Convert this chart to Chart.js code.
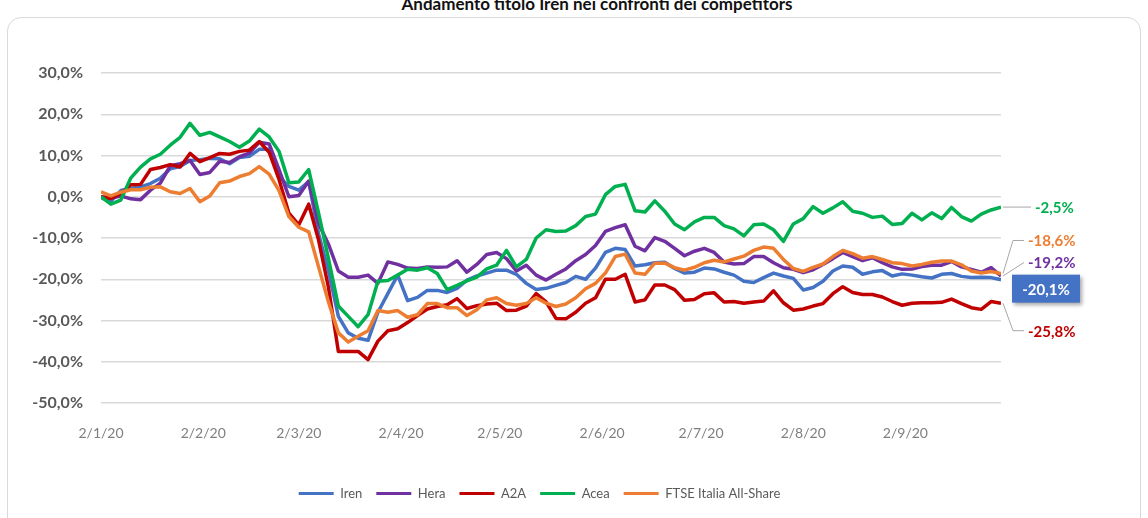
<!DOCTYPE html>
<html>
<head>
<meta charset="utf-8">
<script src="https://cdn.jsdelivr.net/npm/chart.js@4.4.1/dist/chart.umd.min.js"></script>
<style>
  html, body { margin: 0; padding: 0; background: #fff; overflow: hidden; }
  #title { position: absolute; left: 23px; top: -5px; width: 1148px; text-align: center;
           font: bold 17px Lato, "Liberation Sans", sans-serif; line-height: 17px; color: #111; }
  #card { position: absolute; left: 7px; top: 17px; width: 1132px; height: 530px;
          border: 1px solid #d9d9d9; border-radius: 14px; }
  #wrap { position: absolute; left: 0; top: 0; width: 1148px; height: 518px; }
</style>
</head>
<body>
<div id="card"></div>
<div id="title">Andamento titolo Iren nei confronti dei competitors</div>
<div id="wrap"><canvas id="canvas"></canvas></div>
<script>
// giorni dal 2/1/20, uno ogni 3
const days = [0,3,6,9,12,15,18,21,24,27,30,33,36,39,42,45,48,51,54,57,60,63,66,69,72,75,78,81,84,87,
  90,93,96,99,102,105,108,111,114,117,120,123,126,129,132,135,138,141,144,147,150,153,156,159,162,165,168,171,174,177,
  180,183,186,189,192,195,198,201,204,207,210,213,216,219,222,225,228,231,234,237,240,243,246,249,252,255,258,261,264,267,
  270,273];
const xTickDays = [0,31,60,91,121,152,182,213,244];
const xTickLabels = ['2/1/20','2/2/20','2/3/20','2/4/20','2/5/20','2/6/20','2/7/20','2/8/20','2/9/20'];
const seriesNames = ['Iren','Hera','A2A','Acea','FTSE Italia All-Share'];

const iren = [-0.2,-1.1,1.5,2,2.4,3.2,4.5,6.8,7.3,8.8, 9,9.3,9.2,8,9.5,9.8,11.5,11.5,4.9,2.5,
  1.6,3.7,-9,-18,-29,-33,-34.3,-34.8,-28,-23.5, -19,-25.2,-24.4,-22.7,-22.7,-23.2,-22.2,-20.2,-19.2,-18.5,
  -17.8,-17.8,-18.8,-21,-22.5,-22.2,-21.5,-20.8,-19.3,-20, -17.3,-13.5,-12.5,-12.8,-16.8,-16.5,-16,-15.9,-17.4,-18.5,
  -18.3,-17.3,-17.5,-18.3,-19,-20.5,-20.8,-19.6,-18.5,-19.2, -19.8,-22.6,-22,-20.5,-18,-16.8,-17.1,-18.8,-18.2,-17.9,
  -19.2,-18.7,-19,-19.4,-19.7,-18.8,-18.6,-19.3,-19.6,-19.5, -19.6,-20.1];
const hera = [0,-0.3,0.2,-0.5,-0.7,1.6,3.3,7.5,8,8.8, 5.4,5.9,8.6,8.3,9.7,10.6,13.2,12.8,6.6,0,
  0.3,3.8,-6.5,-11.5,-18,-19.5,-19.5,-19,-21,-15.8, -16.4,-17.3,-17.4,-17,-17.1,-17,-15.5,-18.3,-16.4,-14,
  -13.5,-15,-18,-16.6,-19,-20.2,-18.8,-17.5,-15.5,-14, -11.8,-8.4,-7.5,-6.8,-12,-13.1,-9.9,-10.8,-12.5,-14.3,
  -13.2,-12.5,-13.5,-15.8,-16.3,-16.2,-14.5,-14.5,-16,-17.2, -17.6,-18.4,-17.7,-16.4,-15,-13.5,-14.5,-15.5,-14.8,-16,
  -17,-17.6,-17.5,-16.9,-16.6,-16.6,-15.7,-17,-17.6,-18.3, -17.2,-19.2];
const a2a = [0,-0.4,0.8,2.9,3,6.6,7.1,7.8,7.2,10.5, 8.5,9.5,10.5,10.3,11,11.3,13.4,10.8,4.2,-4,
  -6.8,-1.8,-10.5,-22,-37.5,-37.5,-37.5,-39.5,-35,-32.5, -32,-30.5,-28.8,-27.2,-26.6,-26.2,-24.7,-27.1,-26.4,-26,
  -25.8,-27.6,-27.5,-26.5,-23.5,-25.5,-29.5,-29.6,-28,-25.8, -24.5,-20,-20,-18.8,-25.5,-25,-21.4,-21.4,-22.5,-25.1,
  -24.9,-23.5,-23.3,-25.5,-25.4,-25.8,-25.5,-25.3,-22.8,-25.7, -27.5,-27.2,-26.5,-25.9,-23.5,-21.8,-23.2,-23.7,-23.7,-24.3,
  -25.4,-26.3,-25.8,-25.7,-25.7,-25.6,-24.8,-25.9,-26.9,-27.3, -25.4,-25.8];
const acea = [0,-1.8,-0.8,4.5,7.2,9.2,10.3,12.5,14.4,17.8, 14.9,15.6,14.5,13.4,12,13.5,16.4,14.5,11,3.4,
  3.6,6.6,-4,-15,-26.5,-29,-31.5,-28.6,-20.5,-20.3, -19,-17.6,-17.8,-17.2,-18.6,-22.5,-21.5,-20.4,-19.5,-17.5,
  -16.6,-13,-17,-15.2,-10,-8,-8.4,-8.3,-7,-4.8, -4.2,0.5,2.5,3,-3.4,-3.7,-1,-3.5,-6.6,-8,
  -6.1,-5,-5,-7,-7.8,-9.5,-6.8,-6.6,-8,-10.8, -6.6,-5.3,-2.4,-4,-2.7,-1.2,-3.5,-4,-5,-4.7,
  -6.7,-6.5,-4,-5.6,-3.9,-5.3,-2.6,-4.8,-5.9,-4.2, -3.2,-2.5];
const ftse = [1.2,0.2,1.1,1.7,1.7,2.3,2.4,1.2,0.8,2, -1.2,0.2,3.4,3.8,4.9,5.6,7.3,5.5,1.5,-4.8,
  -7.4,-8.5,-17,-25.5,-33,-35.2,-33.8,-32.5,-27.6,-28, -27.6,-29.2,-28.6,-25.9,-25.9,-26.9,-26.9,-28.8,-27.4,-25,
  -24.5,-25.9,-26.3,-25.9,-24.5,-25.8,-26.6,-26,-24.5,-22.3, -21,-18.5,-14.5,-13.9,-18.5,-18.8,-16.1,-16.1,-17.2,-17.8,
  -17.1,-16,-15.4,-15.8,-15.1,-14.4,-13,-12.2,-12.5,-15.2, -17.4,-18.1,-17.1,-16.3,-14.5,-13,-13.8,-14.9,-14.5,-15.2,
  -16,-16.2,-16.8,-16.4,-15.9,-15.6,-15.6,-16.5,-18,-18.5, -18.1,-18.6];
const endLabels = ['-20,1%','-19,2%','-25,8%','-2,5%','-18,6%'];

const colors = ['#4472C4','#7030A0','#C00000','#00B050','#ED7D31'];
const allSeries = [iren, hera, a2a, acea, ftse];
const fontFamily = 'Lato, "Liberation Sans", sans-serif';

const toPts = (vals) => vals.map((v, i) => ({ x: days[i], y: v }));

const datasets = allSeries.map((vals, i) => ({
  label: seriesNames[i],
  data: toPts(vals),
  borderColor: colors[i],
  backgroundColor: colors[i],
  borderWidth: 3.5,
  pointRadius: 0,
  tension: 0,
  borderJoinStyle: 'round',
  order: 5 - i,
}));

// etichette finali a destra (stile Excel)
const labelDx = [11, 27, 27, 34, 27];
const labelDy = [9, -13.5, 27.5, 0, -33];
const endLabelPlugin = {
  id: 'endLabels',
  afterLayout(chart) {
    // legenda centrata sull'intera larghezza come in Excel
    chart.legend.left += 39;
    chart.legend.right += 39;
  },
  afterDatasetsDraw(chart) {
    const ctx = chart.ctx;
    ctx.save();
    ctx.font = 'bold 15px ' + fontFamily;
    ctx.textBaseline = 'middle';
    chart.data.datasets.forEach((ds, i) => {
      const meta = chart.getDatasetMeta(i);
      const last = meta.data[meta.data.length - 1];
      const px = last.x, py = last.y;
      const lx = px + labelDx[i], ly = py + labelDy[i];
      if (i === 0) {
        ctx.shadowColor = 'rgba(0,0,0,0.35)';
        ctx.shadowBlur = 4;
        ctx.shadowOffsetX = 2;
        ctx.shadowOffsetY = 2;
        ctx.fillStyle = colors[0];
        ctx.fillRect(lx, ly - 14, 68, 28);
        ctx.shadowColor = 'transparent';
        ctx.fillStyle = '#fff';
        ctx.textAlign = 'center';
        ctx.fillText(endLabels[i], lx + 34, ly + 1);
        return;
      }
      ctx.strokeStyle = '#a6a6a6';
      ctx.lineWidth = 1;
      ctx.beginPath();
      ctx.moveTo(px + 2, py);
      if (Math.abs(labelDy[i]) > 20) {
        ctx.lineTo(px + 12, ly);
      }
      ctx.lineTo(lx - 4, ly);
      ctx.stroke();
      ctx.fillStyle = colors[i];
      ctx.textAlign = 'left';
      ctx.fillText(endLabels[i], lx, ly + 1);
    });
    ctx.restore();
  }
};

const config = {
  type: 'line',
  data: { datasets: datasets },
  options: {
    responsive: false,
    animation: false,
    layout: { padding: { left: 0, right: 147, top: 73, bottom: 8 } },
    scales: {
      x: {
        type: 'linear',
        min: 0,
        max: 273,
        grid: { display: false },
        border: { display: false },
        afterBuildTicks: (scale) => { scale.ticks = xTickDays.map(v => ({ value: v })); },
        afterFit: (scale) => { scale.height = 70; },
        ticks: {
          autoSkip: false,
          maxRotation: 0,
          padding: 14,
          color: '#7f7f7f',
          font: { family: fontFamily, size: 14 },
          callback: (v) => xTickLabels[xTickDays.indexOf(v)],
        },
      },
      y: {
        min: -50,
        max: 30,
        grid: { color: '#d9d9d9', lineWidth: 1.5, drawTicks: false },
        border: { display: false },
        afterFit: (scale) => { scale.width = 101; },
        ticks: {
          stepSize: 10,
          padding: 18,
          color: '#595959',
          font: { family: fontFamily, size: 16, weight: 'bold' },
          callback: (v) => v.toFixed(1).replace('.', ',') + '%',
        },
      },
    },
    plugins: {
      legend: {
        position: 'bottom',
        labels: {
          boxWidth: 35,
          boxHeight: 3,
          padding: 14,
          color: '#595959',
          font: { family: fontFamily, size: 13 },
          sort: (a, b) => a.datasetIndex - b.datasetIndex,
          generateLabels: (chart) => Chart.defaults.plugins.legend.labels.generateLabels(chart)
            .map(it => Object.assign(it, { lineWidth: 0, fillStyle: it.strokeStyle })),
        },
      },
      tooltip: { enabled: false },
    },
  },
  plugins: [endLabelPlugin],
};

const canvas = document.getElementById('canvas');
canvas.width = 1148;
canvas.height = 518;
const chart = new Chart(canvas, config);
</script>
</body>
</html>
